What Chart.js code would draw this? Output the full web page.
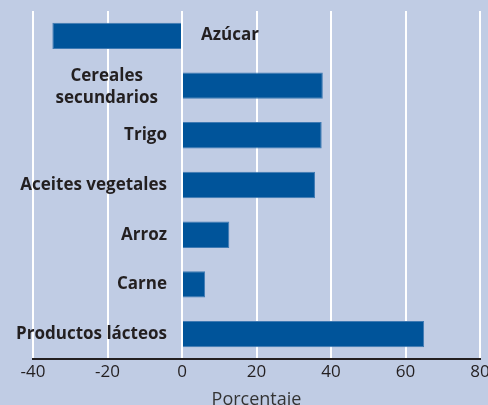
<!DOCTYPE html>
<html>
<head>
<meta charset="utf-8">
<script src="https://cdn.jsdelivr.net/npm/chart.js@4"></script>
<style>
  html, body { margin: 0; padding: 0; overflow: hidden; background: #c0cce4; }
  #wrap { width: 500px; height: 415px; }
</style>
</head>
<body>
<div id="wrap"><canvas id="myChart"></canvas></div>
<script>
var categories = ["Azúcar", ["Cereales", "secundarios"], "Trigo", "Aceites vegetales", "Arroz", "Carne", "Productos lácteos"];
var values = [-34.8, 37.8, 37.5, 35.7, 12.7, 6.2, 65];
var xTicks = [-40, -20, 0, 20, 40, 60, 80];

// draws the category names next to the zero line (right side for negative bars)
var barLabels = {
  id: 'barLabels',
  afterDatasetsDraw: function(chart) {
    var ctx = chart.ctx;
    var x = chart.scales.x, y = chart.scales.y;
    var x0 = x.getPixelForValue(0);
    ctx.save();
    ctx.font = "bold 17px 'Open Sans'";
    ctx.fillStyle = "#231f20";
    ctx.textBaseline = "middle";
    categories.forEach(function(name, i) {
      var yc = y.getPixelForValue(i);
      var lines = Array.isArray(name) ? name : [name];
      if (values[i] < 0) {
        ctx.textAlign = "left";
        ctx.fillText(lines[0], x0 + 19, yc - 1);
        return;
      }
      if (lines.length == 1) {
        ctx.textAlign = "right";
        ctx.fillText(lines[0], x0 - 15, yc);
      } else {
        var w = Math.max.apply(null, lines.map(function(l) { return ctx.measureText(l).width; }));
        ctx.textAlign = "center";
        lines.forEach(function(l, k) {
          ctx.fillText(l, x0 - 24 - w / 2, yc + 2 + (k - (lines.length - 1) / 2) * 22);
        });
      }
    });
    ctx.restore();
  }
};

new Chart(document.getElementById("myChart"), {
  type: 'bar',
  data: {
    labels: categories,
    datasets: [{
      data: values,
      backgroundColor: "#00549a",
      borderColor: "#3f7ab3",
      borderWidth: 1,
      barPercentage: 0.53,
      categoryPercentage: 1
    }]
  },
  options: {
    indexAxis: 'y',
    responsive: true,
    maintainAspectRatio: false,
    animation: false,
    layout: { padding: { left: 33, right: 20, top: 11, bottom: 0 } },
    plugins: { legend: { display: false }, tooltip: { enabled: false } },
    scales: {
      x: {
        min: -40, max: 80,
        afterBuildTicks: function(scale) { scale.ticks = xTicks.map(function(v) { return { value: v }; }); },
        afterFit: function(scale) { scale.height = 56; },
        grid: { color: "#ffffff", lineWidth: 2, drawTicks: false },
        border: { color: "#231f20", width: 2 },
        ticks: { color: "#231f20", font: { family: "'Open Sans'", size: 17 }, padding: 3 },
        title: { display: true, text: "Porcentaje", color: "#333333", font: { family: "'Open Sans'", size: 18 }, padding: { top: 0 } }
      },
      y: { display: false }
    }
  },
  plugins: [barLabels]
});
</script>
</body>
</html>
